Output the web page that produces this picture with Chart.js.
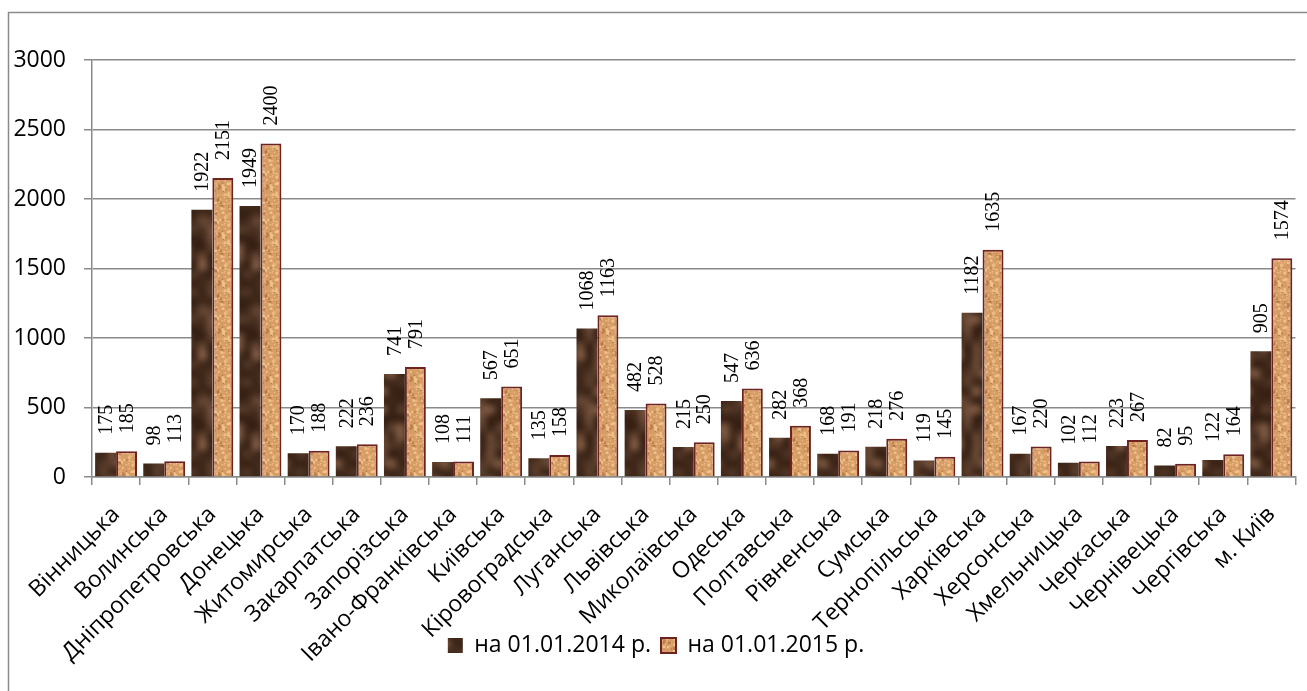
<!DOCTYPE html>
<html>
<head>
<meta charset="utf-8">
<script src="https://cdn.jsdelivr.net/npm/chart.js@4.4.0/dist/chart.umd.min.js"></script>
<style>
html,body{margin:0;padding:0;background:#fff;}
canvas{display:block;}
</style>
</head>
<body>
<canvas id="c" width="1307" height="691"></canvas>
<script>
const categories = ["Вінницька","Волинська","Дніпропетровська","Донецька","Житомирська","Закарпатська","Запорізська","Івано-Франківська","Київська","Кіровоградська","Луганська","Львівська","Миколаївська","Одеська","Полтавська","Рівненська","Сумська","Тернопільська","Харківська","Херсонська","Хмельницька","Черкаська","Чернівецька","Чергівська","м. Київ"];
const values2014 = [175,98,1922,1949,170,222,741,108,567,135,1068,482,215,547,282,168,218,119,1182,167,102,223,82,122,905];
const values2015 = [185,113,2151,2400,188,236,791,111,651,158,1163,528,250,636,368,191,276,145,1635,220,112,267,95,164,1574];
const seriesNames = ["на 01.01.2014 р.","на 01.01.2015 р."];
const yTicks = [0,500,1000,1500,2000,2500,3000];

// deterministic (seeded) texture generators for the bar fills
function lcg(seed){let s=seed>>>0;return()=>{s=(s*1664525+1013904223)>>>0;return s/4294967296;};}
function makeDark(){
  const rnd=lcg(4242);
  const W=6,H=10,S=9;
  const small=document.createElement('canvas');small.width=W;small.height=H;
  const sc=small.getContext('2d');
  for(let y=0;y<H;y++)for(let x=0;x<W;x++){
    let t=rnd(); t=t*t*t;
    const r=Math.round(55+t*75), g=Math.round(33+t*60), b=Math.round(20+t*50);
    sc.fillStyle=`rgb(${r},${g},${b})`;sc.fillRect(x,y,1,1);
  }
  const tiled=document.createElement('canvas');tiled.width=W*3;tiled.height=H*3;
  const tc=tiled.getContext('2d');
  for(let i=0;i<3;i++)for(let j=0;j<3;j++)tc.drawImage(small,i*W,j*H);
  const big=document.createElement('canvas');big.width=W*3*S;big.height=H*3*S;
  const bc=big.getContext('2d');bc.imageSmoothingEnabled=true;bc.imageSmoothingQuality='high';
  bc.drawImage(tiled,0,0,big.width,big.height);
  const c=document.createElement('canvas');c.width=W*S;c.height=H*S;
  c.getContext('2d').drawImage(big,W*S,H*S,W*S,H*S,0,0,W*S,H*S);
  return c;
}
function makeTan(){
  const rnd=lcg(987);
  const c=document.createElement('canvas');c.width=48;c.height=48;
  const ctx=c.getContext('2d');
  ctx.fillStyle='#d69c66';ctx.fillRect(0,0,48,48);
  for(let i=0;i<280;i++){
    const x=rnd()*48,y=rnd()*48,t=rnd();
    let col;
    if(t<0.4) col='rgba(242,198,145,0.9)';
    else if(t<0.72) col='rgba(180,118,66,0.8)';
    else if(t<0.97) col='rgba(228,172,118,0.9)';
    else col='rgba(100,45,25,0.9)';
    ctx.fillStyle=col;
    const s=1+rnd()*2;
    ctx.fillRect(x,y,s,s);
  }
  return c;
}
const ctx0=document.getElementById('c').getContext('2d');
const darkPattern=ctx0.createPattern(makeDark(),'repeat');
const tanPattern=ctx0.createPattern(makeTan(),'repeat');

const frame={
  id:'frame',
  beforeDraw(chart){
    const c=chart.ctx;c.save();
    c.fillStyle='#fff';c.fillRect(0,0,chart.width,chart.height);
    c.strokeStyle='#8a8a8a';c.lineWidth=1.5;
    c.strokeRect(8.5,12.5,2000,2000);
    c.restore();
  },
  afterLayout(chart){
    // let rotated category labels extend below the axis box (into the legend band)
    chart.scales.x.bottom=chart.height;
  }
};
const valueLabels={
  id:'valueLabels',
  afterDatasetsDraw(chart){
    const c=chart.ctx;c.save();
    c.font='20px "Liberation Serif", "Times New Roman", serif';
    c.fillStyle='#000';c.textAlign='left';c.textBaseline='middle';
    chart.data.datasets.forEach((ds,di)=>{
      const meta=chart.getDatasetMeta(di);
      meta.data.forEach((el,i)=>{
        c.save();
        c.translate(el.x+1,el.y-18);
        c.rotate(-Math.PI/2);
        c.fillText(String(ds.data[i]),0,0);
        c.restore();
      });
    });
    c.restore();
  }
};

const FONT='"Open Sans"';
new Chart(ctx0,{
  type:'bar',
  data:{
    labels:categories,
    datasets:[
      {label:seriesNames[0],data:values2014,backgroundColor:darkPattern,borderWidth:0,borderColor:'#3a2215'},
      {label:seriesNames[1],data:values2015,backgroundColor:tanPattern,borderColor:'#6e2222',borderWidth:2}
    ]
  },
  options:{
    responsive:false,
    animation:false,
    devicePixelRatio:1,
    layout:{padding:{left:10,right:5,top:60,bottom:24}},
    datasets:{bar:{categoryPercentage:0.87,barPercentage:1}},
    plugins:{
      legend:{
        position:'bottom',
        labels:{
          font:{family:FONT,size:23},
          color:'#000',
          boxWidth:15,boxHeight:15,padding:10
        }
      },
      tooltip:{enabled:false}
    },
    scales:{
      x:{
        grid:{display:true,drawOnChartArea:false,drawTicks:true,tickLength:8,color:'#8a8a8a',lineWidth:1.5,offset:true},
        border:{display:true,color:'#8a8a8a',width:1.5},
        ticks:{font:{family:FONT,size:23},color:'#000',maxRotation:45,minRotation:45,autoSkip:false,padding:16},
        afterFit(s){s.height=147;}
      },
      y:{
        min:0,max:3000,
        afterBuildTicks(s){s.ticks=yTicks.map(v=>({value:v}));},
        grid:{color:'#8a8a8a',lineWidth:1.5,tickLength:8},
        border:{display:true,color:'#8a8a8a',width:1.5},
        ticks:{font:{family:FONT,size:23},color:'#000',padding:18,callback:(v)=>String(v)},
        afterFit(s){s.width=82;}
      }
    }
  },
  plugins:[frame,valueLabels]
});
</script>
</body>
</html>
